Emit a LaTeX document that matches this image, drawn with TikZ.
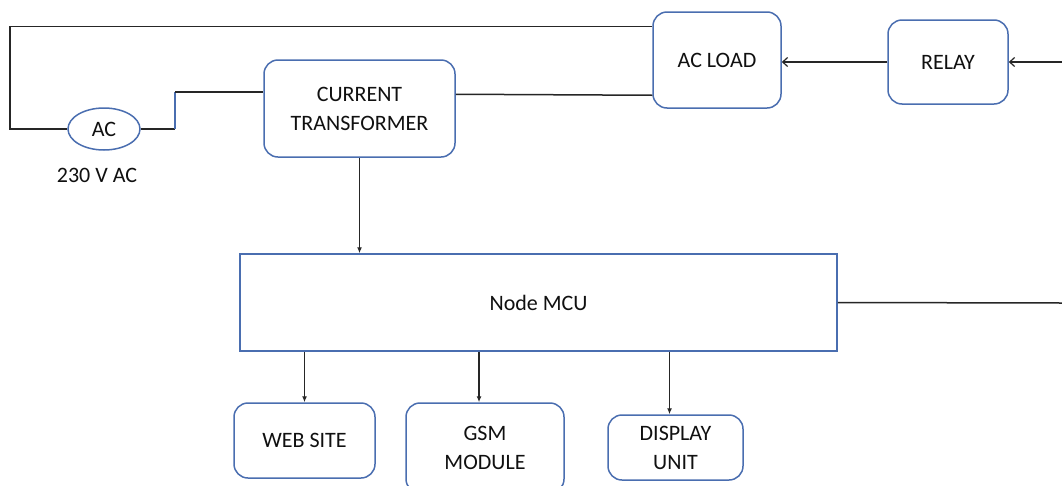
\documentclass[tikz,border=0pt]{standalone}
\usepackage{fontspec}
\setmainfont{Carlito}
\usetikzlibrary{arrows.meta,calc,shapes.geometric}
\definecolor{boxblue}{HTML}{4A6EB0}
\definecolor{wirecol}{HTML}{262626}
\definecolor{txt}{HTML}{101010}
\tikzset{
  box/.style={draw=boxblue, line width=1.5pt, rounded corners=14pt, align=center,
    text=txt, font=\fontsize{22}{29}\selectfont, inner sep=0pt},
  mcubox/.style={draw=boxblue, line width=1.5pt, align=center, text=txt,
    font=\fontsize{22}{29}\selectfont, inner sep=0pt},
  wire/.style={draw=wirecol, line width=1.5pt},
  bluewire/.style={draw=boxblue, line width=1.5pt},
  arrh/.style={wire, -{Straight Barb[length=5pt,width=9pt,line width=1.2pt]}},
  arrv/.style={wire, -{Latex[length=6pt,width=5pt]}},
  lbl/.style={text=txt, font=\fontsize{22}{29}\selectfont, inner sep=0pt}
}
\begin{document}
\begin{tikzpicture}[x=1pt,y=-1pt]
\clip (0,0) rectangle (1062,485);
\fill[white] (0,0) rectangle (1062,485);

% nodes
\node[box, minimum width=191pt, minimum height=97pt] (ct) at (359.5,108.5) {CURRENT\\TRANSFORMER};
\node[box, minimum width=128pt, minimum height=96pt] (acl) at (717,60) {AC LOAD};
\node[box, minimum width=120pt, minimum height=84pt] (rel) at (948,62) {RELAY};
\node[draw=boxblue, line width=1.5pt, ellipse, minimum width=72pt, minimum height=42pt,
      inner sep=0pt, text=txt, font=\fontsize{22}{29}\selectfont] (ac) at (104,129) {AC};
\node[lbl] (v) at (97,175) {230 V AC};
\node[mcubox, minimum width=597pt, minimum height=97pt] (mcu) at (538.5,302.5) {Node MCU};
\node[box, minimum width=141pt, minimum height=75pt] (web) at (304.5,440.5) {WEB SITE};
\node[box, minimum width=158pt, minimum height=90pt] (gsm) at (485,448) {GSM\\MODULE};
\node[box, minimum width=135pt, minimum height=65pt] (disp) at (675.5,447.5) {DISPLAY\\UNIT};

% coordinates
\coordinate (lc) at (10,129);
\coordinate (j) at (175,92);
\coordinate (rin) at (1062,62);
\coordinate (mr) at (1062,303);

% wires
\draw[wire] ($(acl.north west)+(0,15)$) -| (lc) -- (ac.west);
\draw[wire] (ac.east) -- (ac.east -| j);
\draw[bluewire] (ac.east -| j) -- (j);
\draw[wire] (j) -- (ct.west |- j);
\draw[wire] ($(ct.north east)+(0,35)$) -- ($(acl.north west)+(0,84)$);
\draw[arrh] (rel.west) -- (rel.west -| acl.east);
\draw[arrh] (rin) -- (rel.east);
\draw[arrv] (ct.south) -- (ct.south |- mcu.north);
\draw[arrv] (mcu.south -| web.north) -- (web.north);
\draw[arrv] ([xshift=-6pt]mcu.south -| gsm.north) -- ([xshift=-6pt]gsm.north);
\draw[arrv] ([xshift=-6pt]mcu.south -| disp.north) -- ([xshift=-6pt]disp.north);
\draw[wire] (mcu.east) -- (mr);
\end{tikzpicture}
\end{document}
